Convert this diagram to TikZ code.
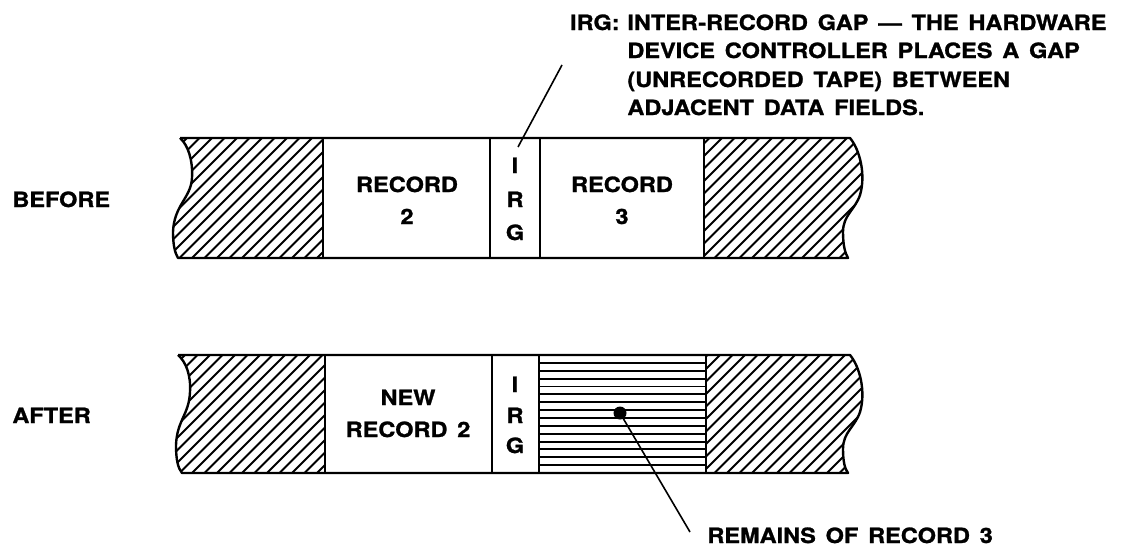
\documentclass[tikz,border=0pt]{standalone}
\usepackage{fontspec}
\setmainfont{TeX Gyre Heros}[FakeStretch=1.12,WordSpace=1.5,BoldFeatures={FakeBold=1.2}]
\begin{document}
\begin{tikzpicture}[x=0.5pt,y=-0.5pt,
  lbl/.style={inner sep=0pt,font=\fontsize{10.5pt}{14pt}\selectfont\bfseries},
  outline/.style={line width=1.2pt,line join=round},
  hatch/.style={line width=0.95pt},
  leader/.style={line width=0.8pt}]
\useasboundingbox (0,0) rectangle (1130,546);

% ---------- BEFORE tape ----------
\begin{scope}
  \clip (180,138) .. controls (188,145) and (193,160) .. (192,178)
        .. controls (191,198) and (174,205) .. (173,232)
        .. controls (173,245) and (175,253) .. (178,258) -- (323,258) -- (323,138) -- cycle;
  \foreach \i in {0,...,28} \draw[hatch] (30+\i*12.5,270) -- ++(150,-150);
\end{scope}
\begin{scope}
  \clip (704,138) -- (850,138) .. controls (860,150) and (866,175) .. (860,195)
        .. controls (855,210) and (843,215) .. (843,232)
        .. controls (843,245) and (845,253) .. (848,258) -- (704,258) -- cycle;
  \foreach \i in {0,...,26} \draw[hatch] (540+\i*12.5,270) -- ++(150,-150);
\end{scope}
\draw[outline] (180,138) -- (850,138) .. controls (860,150) and (866,175) .. (860,195)
        .. controls (855,210) and (843,215) .. (843,232)
        .. controls (843,245) and (845,253) .. (848,258) -- (178,258)
        .. controls (175,253) and (173,245) .. (173,232)
        .. controls (174,205) and (191,198) .. (192,178)
        .. controls (193,160) and (188,145) .. (180,138);
\foreach \x in {323,490,540,704} \draw[outline] (\x,138) -- (\x,258);

% ---------- AFTER tape ----------
\begin{scope}
  \clip (178,355) .. controls (186,362) and (191,375) .. (190,392)
        .. controls (189,415) and (177,420) .. (176,445)
        .. controls (176,460) and (178,468) .. (182,473) -- (325,473) -- (325,355) -- cycle;
  \foreach \i in {0,...,28} \draw[hatch] (30+\i*12.5,485) -- ++(150,-150);
\end{scope}
\begin{scope}
  \clip (706,355) -- (850,355) .. controls (860,367) and (866,392) .. (860,412)
        .. controls (855,427) and (843,432) .. (843,449)
        .. controls (843,462) and (845,469) .. (848,473) -- (706,473) -- cycle;
  \foreach \i in {0,...,26} \draw[hatch] (540+\i*12.5,485) -- ++(150,-150);
\end{scope}
\foreach \i in {1,...,14} \draw[hatch] (539,355+\i*7.87) -- (706,355+\i*7.87);
\draw[outline] (178,355) -- (850,355) .. controls (860,367) and (866,392) .. (860,412)
        .. controls (855,427) and (843,432) .. (843,449)
        .. controls (843,462) and (845,469) .. (848,473) -- (182,473)
        .. controls (178,468) and (176,460) .. (176,445)
        .. controls (177,420) and (189,415) .. (190,392)
        .. controls (191,375) and (186,362) .. (178,355);
\foreach \x in {325,492,539,706} \draw[outline] (\x,355) -- (\x,473);

% ---------- labels ----------
\node[lbl,anchor=base west] (before) at (12,207) {BEFORE};
\node[lbl,anchor=base west] (after) at (12,423) {AFTER};

\node[lbl,anchor=base] (rec2a) at (407,192) {RECORD};
\node[lbl,anchor=base] (rec2b) at (407,224) {2};
\node[lbl,anchor=base] (irg1) at (515,173) {I};
\node[lbl,anchor=base] (irg2) at (515,207) {R};
\node[lbl,anchor=base] (irg3) at (515,240) {G};
\node[lbl,anchor=base] (rec3a) at (622,192) {RECORD};
\node[lbl,anchor=base] (rec3b) at (622,224) {3};

\node[lbl,anchor=base] (new2a) at (408,405) {NEW};
\node[lbl,anchor=base] (new2b) at (408,437) {RECORD 2};
\node[lbl,anchor=base] (irg4) at (515,392) {I};
\node[lbl,anchor=base] (irg5) at (515,423) {R};
\node[lbl,anchor=base] (irg6) at (515,453) {G};

\node[lbl,anchor=base east] (irghead) at (620,30) {IRG:};
\node[lbl,anchor=base west] (irgl1) at (627,30) {INTER-RECORD GAP --- THE HARDWARE};
\node[lbl,anchor=base west] (irgl2) at (627,58) {DEVICE CONTROLLER PLACES A GAP};
\node[lbl,anchor=base west] (irgl3) at (627,87) {(UNRECORDED TAPE) BETWEEN};
\node[lbl,anchor=base west] (irgl4) at (627,115) {ADJACENT DATA FIELDS.};

\node[lbl,anchor=base west] (remains) at (707,543) {REMAINS OF RECORD 3};

% ---------- leaders ----------
\coordinate (irgtop) at (562,65);
\coordinate (irgend) at (518,147);
\draw[leader] (irgtop) -- (irgend);

\node[circle,fill=black,inner sep=0pt,minimum size=6.5pt] (dot) at (620,413) {};
\coordinate (remend) at (690,532);
\draw[leader] (dot.center) -- (remend);
\end{tikzpicture}
\end{document}
